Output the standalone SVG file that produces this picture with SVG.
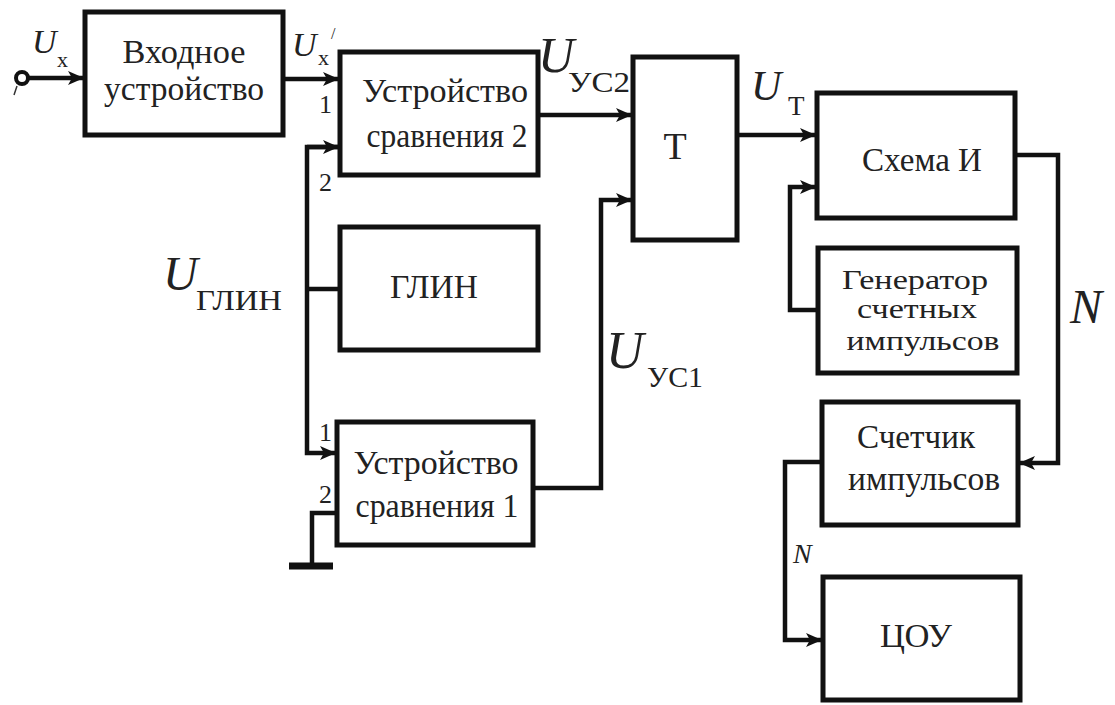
<svg xmlns="http://www.w3.org/2000/svg" width="1115" height="705" viewBox="0 0 1115 705" font-family="'Liberation Serif', 'DejaVu Serif', serif">
  <style>
    .box { fill: #fff; stroke: #111; stroke-width: 5; }
    .wire { fill: none; stroke: #111; stroke-width: 4.5; stroke-linejoin: miter; }
    text { font-family: 'Liberation Serif', 'DejaVu Serif', serif; fill: #222; }
    .t { font-size: 33px; text-anchor: middle; }
    .it { font-style: italic; }
  </style>
  <defs>
    <marker id="arr" markerUnits="userSpaceOnUse" markerWidth="18" markerHeight="14" refX="16" refY="7" orient="auto">
      <path d="M0,0 L16,7 L0,14 L4,7 Z" fill="#111"/>
    </marker>
  </defs>

  <!-- connectors -->
  <g id="connectors">
    <circle cx="22" cy="78" r="6" fill="#fff" stroke="#111" stroke-width="4"/>
    <line x1="14" y1="95" x2="17" y2="86" stroke="#333" stroke-width="1.5"/>
    <path class="wire" d="M28,78 H84" marker-end="url(#arr)"/>
    <path class="wire" d="M283,79 H339" marker-end="url(#arr)"/>
    <path class="wire" d="M538,115 H632" marker-end="url(#arr)"/>
    <path class="wire" d="M737,135 H816" marker-end="url(#arr)"/>
    <!-- sawtooth generator bus -->
    <path class="wire" d="M339,147 H307 V453 H336" marker-end="url(#arr)"/>
    <path class="wire" d="M307,147 H339" marker-end="url(#arr)"/>
    <path class="wire" d="M307,289 H340"/>
    <!-- ground on comparator 1 input 2 -->
    <path class="wire" d="M337,513 H312 V566"/>
    <line x1="289" y1="566" x2="333" y2="566" stroke="#111" stroke-width="7"/>
    <path class="wire" d="M533,488 H601 V200 H632" marker-end="url(#arr)"/>
    <path class="wire" d="M818,310 H790 V187 H816" marker-end="url(#arr)"/>
    <path class="wire" d="M1015,155 H1058 V463 H1019" marker-end="url(#arr)"/>
    <path class="wire" d="M822,462 H785 V640 H822" marker-end="url(#arr)"/>
  </g>

  <g id="input-device">
    <rect class="box" x="85" y="12" width="198" height="123"/>
    <text class="t" x="184" y="63" textLength="123" lengthAdjust="spacingAndGlyphs">Входное</text>
    <text class="t" x="184" y="100" textLength="160" lengthAdjust="spacingAndGlyphs">устройство</text>
  </g>

  <g id="comparator-2">
    <rect class="box" x="340" y="52" width="198" height="123"/>
    <text class="t" x="445" y="102" textLength="166" lengthAdjust="spacingAndGlyphs">Устройство</text>
    <text class="t" x="447" y="147" textLength="161" lengthAdjust="spacingAndGlyphs">сравнения 2</text>
  </g>

  <g id="trigger">
    <rect class="box" x="633" y="57" width="104" height="183"/>
    <text class="t" x="675" y="159" style="font-size:38px">Т</text>
  </g>

  <g id="sawtooth-generator">
    <rect class="box" x="340" y="227" width="198" height="123"/>
    <text class="t" x="434" y="298" textLength="88" lengthAdjust="spacingAndGlyphs">ГЛИН</text>
  </g>

  <g id="comparator-1">
    <rect class="box" x="337" y="422" width="196" height="123"/>
    <text class="t" x="436" y="474" textLength="165" lengthAdjust="spacingAndGlyphs">Устройство</text>
    <text class="t" x="437" y="517" textLength="163" lengthAdjust="spacingAndGlyphs">сравнения 1</text>
  </g>

  <g id="and-gate">
    <rect class="box" x="817" y="93" width="198" height="125"/>
    <text class="t" x="922" y="171" textLength="120" lengthAdjust="spacingAndGlyphs">Схема И</text>
  </g>

  <g id="pulse-generator">
    <rect class="box" x="818" y="248" width="199" height="125"/>
    <text class="t" x="915" y="289" style="font-size:28px" textLength="146" lengthAdjust="spacingAndGlyphs">Генератор</text>
    <text class="t" x="917" y="318" style="font-size:28px" textLength="120" lengthAdjust="spacingAndGlyphs">счетных</text>
    <text class="t" x="923" y="350" style="font-size:28px" textLength="153" lengthAdjust="spacingAndGlyphs">импульсов</text>
  </g>

  <g id="counter">
    <rect class="box" x="822" y="402" width="196" height="123"/>
    <text class="t" x="916" y="448" textLength="118" lengthAdjust="spacingAndGlyphs">Счетчик</text>
    <text class="t" x="924" y="490" textLength="152" lengthAdjust="spacingAndGlyphs">импульсов</text>
  </g>

  <g id="display">
    <rect class="box" x="823" y="577" width="197" height="123"/>
    <text class="t" x="916" y="647" textLength="72" lengthAdjust="spacingAndGlyphs">ЦОУ</text>
  </g>

  <!-- signal labels -->
  <g id="labels">
    <text class="it" x="32" y="53" font-size="34">U</text>
    <text x="57" y="67" font-size="22">x</text>
    <text class="it" x="292" y="56" font-size="34">U</text>
    <text x="318" y="65" font-size="22">x</text>
    <text x="331" y="39" font-size="16">/</text>
    <text x="319" y="113" font-size="26">1</text>
    <text x="319" y="191" font-size="26">2</text>
    <text x="319" y="441" font-size="26">1</text>
    <text x="319" y="503" font-size="26">2</text>
    <text class="it" x="538" y="72" font-size="50">U</text>
    <text x="568" y="92" font-size="29" textLength="62" lengthAdjust="spacingAndGlyphs">УС2</text>
    <text class="it" x="751" y="100" font-size="42">U</text>
    <text x="788" y="115" font-size="27">Т</text>
    <text class="it" x="163" y="290" font-size="48">U</text>
    <text x="196" y="310" font-size="29" textLength="86" lengthAdjust="spacingAndGlyphs">ГЛИН</text>
    <text class="it" x="606" y="368" font-size="52">U</text>
    <text x="647" y="387" font-size="29" textLength="56" lengthAdjust="spacingAndGlyphs">УС1</text>
    <text class="it" x="1070" y="323" font-size="48">N</text>
    <text class="it" x="793" y="563" font-size="28">N</text>
  </g>
</svg>
